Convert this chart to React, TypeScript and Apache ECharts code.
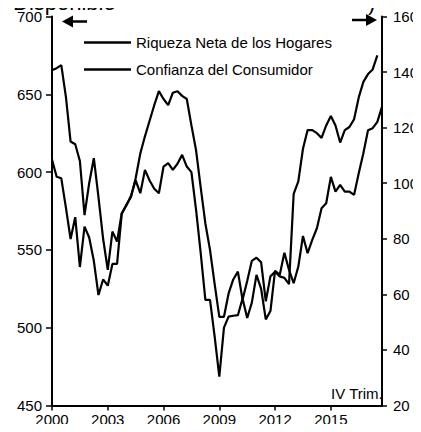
import React, { useEffect, useRef } from "react";
import * as echarts from "echarts";

// Quarterly data, 2000 Q1 .. 2017 Q4
const years = [2000, 2001, 2002, 2003, 2004, 2005, 2006, 2007, 2008, 2009, 2010, 2011, 2012, 2013, 2014, 2015, 2016, 2017];
const quarterNames = ["I", "II", "III", "IV"];
const xTickLabels = ["2000", "2003", "2006", "2009", "2012", "2015"];

// Riqueza neta de los hogares (eje izquierdo), 2000 T1 .. 2017 T3
const riquezaNeta = [
  608, 597, 596, 577, 557, 571, 539, 565, 558, 543, 521, 531,
  527, 541, 541, 573, 579, 584, 596, 612, 623, 633, 643, 652,
  647, 643, 651, 652, 649, 647, 630, 614, 590, 567, 550, 528,
  507, 507, 522, 531, 536, 518, 530, 543, 545, 542, 517, 533,
  536, 533, 532, 528, 586, 594, 615, 627, 627, 625, 622, 630,
  636, 630, 619, 627, 629, 634, 648, 658, 663, 666, 675,
];

// Confianza del consumidor (eje derecho), 2000 T1 .. 2017 T4
const confianza = [
  140.7, 141.4, 142.5, 131, 115, 114, 108, 88.5, 100, 109, 95, 80,
  68.8, 82.6, 79, 89.2, 92, 95.5, 101, 96.4, 104.8, 101, 98, 96.4,
  106, 107.2, 104.8, 107, 110.2, 106, 104, 90.4, 74.8, 58, 58, 44.8,
  30.4, 48, 52, 52.3, 52.5, 58.5, 51.5, 57, 67, 62, 51, 54,
  68.5, 67, 75, 68.8, 64, 70, 81, 74.8, 79.6, 83.8, 91, 92.8,
  102.3, 97, 99.4, 97, 97, 95.8, 103.6, 110.8, 119.1, 119.8, 122.1, 127.5,
];

const leftTicks = { min: 450, max: 700, interval: 50 };
const rightTicks = { min: 20, max: 160, interval: 20 };

const categories: string[] = [];
years.forEach((y) => quarterNames.forEach((q) => categories.push(`${q} Trim. ${y}`)));

const FONT = "'Liberation Sans', Arial, Helvetica, sans-serif";
const NARROW = "'Liberation Sans Narrow', 'Arial Narrow', 'Liberation Sans', Arial, sans-serif";

export default function App() {
  const ref = useRef<HTMLDivElement>(null);

  useEffect(() => {
    if (!ref.current) return;
    const chart = echarts.init(ref.current, undefined, { renderer: "svg" });
    const every12 = (i: number) => i % 12 === 0;
    chart.setOption({
      animation: false,
      backgroundColor: "#fff",
      textStyle: { fontFamily: FONT, color: "#000" },
      grid: { left: 52, right: 34, top: 16.5, bottom: 26.5, containLabel: false },
      legend: {
        orient: "vertical",
        left: 79,
        top: 30,
        itemWidth: 47,
        itemHeight: 2.5,
        itemGap: 12,
        icon: "rect",
        textStyle: { fontSize: 15, color: "#000", fontFamily: FONT },
        data: ["Riqueza Neta de los Hogares", "Confianza del Consumidor"],
      },
      xAxis: {
        type: "category",
        data: categories,
        boundaryGap: false,
        axisLine: { show: true, lineStyle: { color: "#000", width: 2 } },
        axisTick: { show: true, interval: every12, length: 5, lineStyle: { color: "#000", width: 1.5 } },
        axisLabel: {
          interval: every12,
          margin: 6,
          fontSize: 15,
          fontFamily: NARROW,
          color: "#000",
          formatter: (_v: string, i: number) => xTickLabels[i / 12] ?? "",
        },
        splitLine: { show: false },
      },
      yAxis: [
        {
          type: "value",
          position: "left",
          ...leftTicks,
          axisLine: { show: true, lineStyle: { color: "#000", width: 2 } },
          axisTick: { show: true, length: 6, lineStyle: { color: "#000", width: 1.5 } },
          axisLabel: { fontSize: 15, color: "#000", margin: 10, fontFamily: FONT },
          splitLine: { show: false },
        },
        {
          type: "value",
          position: "right",
          ...rightTicks,
          axisLine: { show: true, lineStyle: { color: "#000", width: 2 } },
          axisTick: { show: true, length: 5, lineStyle: { color: "#000", width: 1.5 } },
          axisLabel: { fontSize: 15, color: "#000", margin: 11, fontFamily: FONT },
          splitLine: { show: false },
        },
      ],
      series: [
        {
          name: "Riqueza Neta de los Hogares",
          type: "line",
          yAxisIndex: 0,
          data: riquezaNeta,
          showSymbol: false,
          symbol: "none",
          lineStyle: { color: "#000", width: 2.2 },
          itemStyle: { color: "#000" },
        },
        {
          name: "Confianza del Consumidor",
          type: "line",
          yAxisIndex: 1,
          data: confianza,
          showSymbol: false,
          symbol: "none",
          lineStyle: { color: "#000", width: 2.2 },
          itemStyle: { color: "#000" },
        },
      ],
      graphic: [
        {
          type: "text",
          left: 13,
          top: -9,
          style: { text: "Disponible", font: `22px ${FONT}`, lineHeight: 14, fill: "#000" },
          silent: true,
        },
        {
          type: "text",
          left: 368,
          top: -9,
          style: { text: ")", font: `22px ${FONT}`, lineHeight: 14, fill: "#000" },
          silent: true,
        },
        // left arrow
        {
          type: "line",
          shape: { x1: 70, y1: 21.5, x2: 87, y2: 21.5 },
          style: { stroke: "#000", lineWidth: 2.5 },
          silent: true,
        },
        {
          type: "polygon",
          shape: { points: [[62, 21.5], [73, 15.5], [73, 27.5]] },
          style: { fill: "#000" },
          silent: true,
        },
        // right arrow
        {
          type: "line",
          shape: { x1: 352, y1: 20, x2: 368, y2: 20 },
          style: { stroke: "#000", lineWidth: 2.5 },
          silent: true,
        },
        {
          type: "polygon",
          shape: { points: [[377, 20], [366, 14], [366, 26]] },
          style: { fill: "#000" },
          silent: true,
        },
        {
          type: "text",
          right: 421 - 383,
          top: 386,
          style: { text: "IV Trim.", font: `15px ${FONT}`, fill: "#000" },
          silent: true,
        },
      ],
    });
    return () => chart.dispose();
  }, []);

  return <div ref={ref} style={{ width: 421, height: 432, margin: -8 }} />;
}
